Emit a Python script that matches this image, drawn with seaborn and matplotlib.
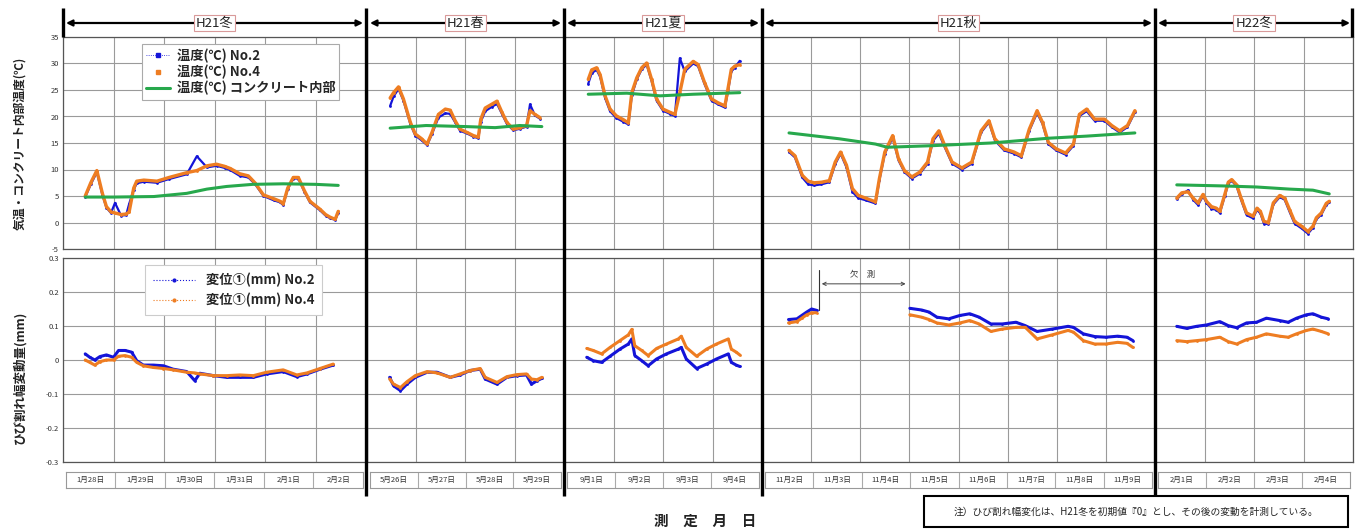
import matplotlib.pyplot as plt
import matplotlib.lines as mlines
from matplotlib.patches import Rectangle
import seaborn as sns

sns.set_style("white")
plt.rcParams["font.family"] = ["Noto Sans CJK JP", "DejaVu Sans"]

# ---------------- data (time = days from first date of each period) ----------------
seasons = ["H21冬", "H21春", "H21夏", "H21秋", "H22冬"]
dates1 = ["1月28日", "1月29日", "1月30日", "1月31日", "2月1日", "2月2日"]
dates2 = ["5月26日", "5月27日", "5月28日", "5月29日"]
dates3 = ["9月1日", "9月2日", "9月3日", "9月4日"]
dates4 = ["11月2日", "11月3日", "11月4日", "11月5日", "11月6日", "11月7日", "11月8日", "11月9日"]
dates5 = ["2月1日", "2月2日", "2月3日", "2月4日"]

temp_ticks = [35, 30, 25, 20, 15, 10, 5, 0, -5]
disp_ticks = [0.3, 0.2, 0.1, 0, -0.1, -0.2, -0.3]
disp_tick_labels = ["0.3", "0.2", "0.1", "0", "-0.1", "-0.2", "-0.3"]

# temperature, H21 winter
t1_time = [0.44, 0.55, 0.67, 0.78, 0.86, 0.95, 1.03, 1.15, 1.25, 1.31, 1.40, 1.46, 1.60, 1.86, 2.10, 2.45,
           2.65, 2.85, 3.04, 3.20, 3.31, 3.50, 3.67, 3.80, 3.97, 4.17, 4.30, 4.36, 4.45, 4.56, 4.66, 4.78,
           4.89, 5.09, 5.20, 5.29, 5.39, 5.45]
t1_no2 = [4.8, 7.2, 9.5, 5.2, 2.8, 1.8, 3.7, 1.3, 1.4, 3.5, 6.2, 7.4, 7.7, 7.5, 8.2, 9.1, 12.5, 10.4, 10.7,
          10.3, 9.9, 8.8, 8.5, 7.3, 5.0, 4.2, 3.8, 3.3, 6.3, 8.3, 8.3, 5.8, 3.8, 2.3, 1.3, 0.8, 0.5, 1.8]
t1_no4 = [5.0, 7.5, 9.8, 5.5, 3.0, 2.0, 1.8, 1.5, 1.6, 2.0, 6.5, 7.8, 8.0, 7.8, 8.5, 9.4, 9.8, 10.7, 11.0,
          10.6, 10.2, 9.2, 8.8, 7.5, 5.2, 4.5, 4.0, 3.5, 6.5, 8.5, 8.5, 6.0, 4.0, 2.5, 1.5, 1.0, 0.6, 2.1]
t1_in_time = [0.44, 1.0, 1.8, 2.45, 2.85, 3.24, 3.76, 4.36, 5.0, 5.45]
t1_inner = [4.8, 4.8, 4.9, 5.5, 6.3, 6.8, 7.2, 7.3, 7.2, 7.0]

# temperature, H21 spring
t2_time = [0.47, 0.54, 0.64, 0.74, 0.88, 0.98, 1.11, 1.22, 1.32, 1.45, 1.59, 1.69, 1.79, 1.89, 2.03, 2.16,
           2.26, 2.31, 2.40, 2.53, 2.64, 2.74, 2.84, 2.97, 3.11, 3.24, 3.31, 3.41, 3.51]
t2_no2 = [22.0, 23.8, 25.2, 23.0, 18.6, 16.4, 15.5, 14.6, 16.7, 19.8, 20.6, 20.5, 18.9, 17.3, 16.8, 16.2,
          15.9, 19.0, 21.0, 21.8, 22.4, 20.5, 18.6, 17.4, 17.7, 18.1, 22.3, 20.2, 19.6]
t2_no4 = [23.5, 24.5, 25.6, 23.3, 18.9, 16.7, 15.8, 14.8, 17.0, 20.4, 21.4, 21.2, 19.2, 17.6, 17.0, 16.4,
          16.1, 19.5, 21.6, 22.3, 22.9, 20.8, 18.9, 17.6, 17.9, 18.3, 21.1, 20.4, 19.8]
t2_in_time = [0.47, 1.2, 2.0, 2.6, 3.1, 3.55]
t2_inner = [17.8, 18.3, 18.1, 17.9, 18.3, 18.1]

# temperature, H21 summer
t3_time = [0.49, 0.56, 0.66, 0.73, 0.83, 0.93, 1.06, 1.20, 1.30, 1.37, 1.47, 1.57, 1.67, 1.77, 1.87, 2.00,
           2.14, 2.24, 2.34, 2.44, 2.61, 2.71, 2.84, 2.98, 3.11, 3.25, 3.31, 3.38, 3.45, 3.55]
t3_no2 = [26.2, 28.2, 28.8, 27.5, 23.5, 21.0, 19.7, 19.0, 18.5, 24.0, 27.0, 28.9, 29.8, 26.7, 23.0, 21.1,
          20.5, 20.1, 31.0, 28.5, 30.0, 29.5, 26.1, 23.0, 22.3, 21.7, 24.6, 28.5, 29.2, 30.5]
t3_no4 = [27.0, 28.8, 29.2, 27.9, 23.9, 21.4, 20.1, 19.4, 18.8, 24.5, 27.3, 29.2, 30.1, 27.0, 23.3, 21.4,
          20.8, 20.4, 24.5, 28.9, 30.4, 29.8, 26.4, 23.3, 22.6, 22.0, 25.1, 28.9, 29.5, 29.8]
t3_in_time = [0.49, 1.27, 1.94, 2.61, 3.55]
t3_inner = [24.2, 24.4, 23.9, 24.2, 24.5]

# temperature, H21 autumn
t4_time = [0.55, 0.67, 0.82, 0.94, 1.06, 1.21, 1.37, 1.49, 1.60, 1.72, 1.84, 1.96, 2.11, 2.31, 2.39, 2.50,
           2.66, 2.78, 2.90, 3.05, 3.21, 3.37, 3.48, 3.60, 3.72, 3.87, 4.07, 4.27, 4.46, 4.62, 4.74, 4.93,
           5.13, 5.28, 5.44, 5.60, 5.71, 5.83, 5.99, 6.18, 6.34, 6.46, 6.61, 6.77, 6.97, 7.12, 7.28, 7.44, 7.59]
t4_no2 = [13.3, 12.3, 8.5, 7.2, 7.0, 7.2, 7.6, 11.0, 13.0, 10.4, 5.8, 4.6, 4.2, 3.6, 8.0, 13.0, 16.0, 11.7,
          9.5, 8.3, 9.2, 11.1, 15.4, 16.8, 14.2, 11.1, 10.0, 11.1, 17.0, 18.9, 15.5, 13.6, 13.0, 12.3, 17.3,
          20.7, 18.6, 14.8, 13.6, 12.8, 14.5, 20.1, 21.0, 19.2, 19.2, 18.0, 17.0, 18.0, 20.8]
t4_no4 = [13.6, 12.6, 8.9, 7.8, 7.5, 7.6, 7.9, 11.4, 13.3, 10.8, 6.4, 5.1, 4.6, 3.9, 8.3, 13.3, 16.4, 12.0,
          9.8, 8.6, 9.5, 11.4, 15.8, 17.3, 14.5, 11.4, 10.3, 11.4, 17.3, 19.2, 15.8, 13.9, 13.3, 12.6, 17.6,
          21.1, 18.9, 15.1, 13.9, 13.1, 14.8, 20.4, 21.4, 19.5, 19.5, 18.3, 17.3, 18.3, 21.1]
t4_in_time = [0.55, 1.57, 2.31, 2.55, 3.48, 4.66, 5.83, 6.61, 7.59]
t4_inner = [16.9, 15.8, 14.8, 14.2, 14.5, 15.0, 15.9, 16.3, 16.9]

# temperature, H22 winter
t5_time = [0.44, 0.54, 0.67, 0.77, 0.87, 0.97, 1.04, 1.14, 1.24, 1.31, 1.41, 1.48, 1.55, 1.65, 1.75, 1.85,
           1.98, 2.06, 2.13, 2.20, 2.29, 2.39, 2.52, 2.62, 2.72, 2.82, 2.96, 3.09, 3.19, 3.26, 3.36, 3.46, 3.52]
t5_no2 = [4.4, 5.3, 6.1, 4.3, 3.3, 5.0, 3.7, 2.6, 2.4, 1.8, 5.0, 7.3, 7.9, 6.8, 4.0, 1.4, 0.8, 2.4, 1.7,
          -0.2, -0.3, 3.4, 4.8, 4.3, 2.0, -0.2, -1.1, -2.1, -1.0, 0.6, 1.5, 3.3, 3.8]
t5_no4 = [4.6, 5.6, 5.8, 4.6, 3.7, 5.3, 4.0, 3.0, 2.7, 2.1, 5.3, 7.6, 8.1, 7.1, 4.3, 1.8, 1.2, 2.7, 2.1,
          0.2, 0.0, 3.7, 5.1, 4.6, 2.4, 0.2, -0.7, -1.7, -0.7, 0.9, 1.8, 3.6, 4.0]
t5_in_time = [0.44, 1.38, 2.05, 2.72, 3.19, 3.52]
t5_inner = [7.1, 6.9, 6.7, 6.3, 6.1, 5.4]

# crack width change (mm)
d1_time = [0.44, 0.53, 0.63, 0.73, 0.86, 1.0, 1.1, 1.23, 1.36, 1.46, 1.59, 1.79, 1.99, 2.18, 2.45, 2.61,
           2.71, 2.98, 3.24, 3.5, 3.77, 4.03, 4.36, 4.63, 4.83, 5.09, 5.35]
d1_no2 = [0.018, 0.008, 0.0, 0.01, 0.015, 0.008, 0.028, 0.028, 0.023, -0.002, -0.015, -0.015, -0.017,
          -0.027, -0.034, -0.061, -0.039, -0.046, -0.051, -0.051, -0.051, -0.041, -0.034, -0.049, -0.041,
          -0.027, -0.015]
d1_no4 = [0.0, -0.007, -0.015, -0.005, 0.0, 0.0, 0.011, 0.013, 0.008, -0.007, -0.017, -0.022, -0.025,
          -0.029, -0.036, -0.038, -0.041, -0.046, -0.046, -0.044, -0.046, -0.036, -0.029, -0.044, -0.038,
          -0.025, -0.012]

d2_time = [0.46, 0.54, 0.68, 0.81, 0.98, 1.22, 1.42, 1.69, 1.89, 2.09, 2.30, 2.40, 2.64, 2.84, 3.04, 3.24,
           3.34, 3.45, 3.55]
d2_no2 = [-0.051, -0.076, -0.090, -0.071, -0.051, -0.036, -0.036, -0.051, -0.044, -0.031, -0.027, -0.056,
          -0.071, -0.051, -0.046, -0.044, -0.071, -0.061, -0.054]
d2_no4 = [-0.056, -0.071, -0.081, -0.064, -0.046, -0.034, -0.038, -0.051, -0.041, -0.031, -0.025, -0.051,
          -0.066, -0.049, -0.043, -0.041, -0.056, -0.058, -0.051]

d3_time = [0.46, 0.59, 0.76, 0.93, 1.13, 1.30, 1.37, 1.43, 1.57, 1.70, 1.87, 2.07, 2.31, 2.37, 2.47, 2.68,
           2.88, 3.08, 3.32, 3.38, 3.48, 3.55]
d3_no2 = [0.008, -0.002, -0.007, 0.011, 0.032, 0.047, 0.062, 0.013, -0.002, -0.017, 0.003, 0.018, 0.032,
          0.037, 0.003, -0.025, -0.012, 0.003, 0.018, -0.007, -0.015, -0.019]
d3_no4 = [0.034, 0.028, 0.018, 0.037, 0.057, 0.074, 0.09, 0.042, 0.028, 0.013, 0.034, 0.047, 0.062, 0.070,
          0.037, 0.011, 0.032, 0.047, 0.062, 0.032, 0.023, 0.015]

# autumn has a gap in the record (欠測)
d4a_time = [0.54, 0.71, 0.81, 0.91, 1.01, 1.11]
d4a_no2 = [0.119, 0.121, 0.131, 0.141, 0.150, 0.146]
d4a_no4 = [0.109, 0.113, 0.123, 0.133, 0.139, 0.139]
d4b_time = [3.01, 3.25, 3.40, 3.56, 3.80, 4.03, 4.23, 4.42, 4.66, 4.89, 5.17, 5.36, 5.60, 5.91, 6.23, 6.34,
            6.54, 6.77, 7.00, 7.24, 7.43, 7.55]
d4b_no2 = [0.152, 0.147, 0.141, 0.126, 0.121, 0.131, 0.136, 0.126, 0.106, 0.106, 0.111, 0.101, 0.084, 0.091,
           0.099, 0.096, 0.077, 0.069, 0.067, 0.070, 0.067, 0.057]
d4b_no4 = [0.133, 0.126, 0.119, 0.109, 0.103, 0.109, 0.116, 0.106, 0.084, 0.091, 0.096, 0.096, 0.062, 0.074,
           0.087, 0.082, 0.057, 0.047, 0.047, 0.052, 0.049, 0.037]

d5_time = [0.44, 0.64, 0.84, 1.04, 1.31, 1.48, 1.65, 1.85, 2.05, 2.25, 2.52, 2.69, 2.86, 3.06, 3.19, 3.36, 3.50]
d5_no2 = [0.099, 0.093, 0.099, 0.103, 0.113, 0.101, 0.095, 0.109, 0.111, 0.123, 0.116, 0.111, 0.123, 0.133,
          0.136, 0.126, 0.121]
d5_no4 = [0.057, 0.054, 0.057, 0.060, 0.067, 0.054, 0.047, 0.060, 0.067, 0.077, 0.070, 0.067, 0.077, 0.087,
          0.091, 0.084, 0.077]

# ---------------- layout ----------------
W, H = 1363, 530
BLUE, ORANGE, GREEN = "#1414d8", "#ee7d22", "#27a84c"
GRID = "#9a9a9a"


def px_box(x0, y0, x1, y1):
    return [x0 / W, 1 - y1 / H, (x1 - x0) / W, (y1 - y0) / H]


segments = [
    (63, 366, dates1, (t1_time, t1_no2, t1_no4, t1_in_time, t1_inner), [(d1_time, d1_no2, d1_no4)]),
    (367, 564, dates2, (t2_time, t2_no2, t2_no4, t2_in_time, t2_inner), [(d2_time, d2_no2, d2_no4)]),
    (564, 762, dates3, (t3_time, t3_no2, t3_no4, t3_in_time, t3_inner), [(d3_time, d3_no2, d3_no4)]),
    (762, 1155, dates4, (t4_time, t4_no2, t4_no4, t4_in_time, t4_inner),
     [(d4a_time, d4a_no2, d4a_no4), (d4b_time, d4b_no2, d4b_no4)]),
    (1155, 1353, dates5, (t5_time, t5_no2, t5_no4, t5_in_time, t5_inner), [(d5_time, d5_no2, d5_no4)]),
]

fig = plt.figure(figsize=(W / 100, H / 100), dpi=100)
fig.patch.set_facecolor("white")


def style_axes(ax, n):
    ax.set_xlim(0, n)
    ax.set_xticks(range(n + 1))
    ax.grid(True, color=GRID, lw=0.8)
    ax.tick_params(length=0, labelbottom=False, labelsize=5.5, labelcolor="#333333", pad=3)
    for sp in ax.spines.values():
        sp.set_color("#555555")
        sp.set_linewidth(0.9)


line_kw = dict(marker=".", markersize=4, markeredgewidth=0, estimator=None, sort=False)
axes_top, axes_bot = [], []
for i, (x0, x1, dates, temps, disps) in enumerate(segments):
    n = len(dates)
    ax_t = fig.add_axes(px_box(x0, 37, x1, 249))
    ax_b = fig.add_axes(px_box(x0, 258, x1, 462))
    ax_d = fig.add_axes(px_box(x0 + 3, 472, x1 - 3, 488))
    axes_top.append(ax_t)
    axes_bot.append(ax_b)

    tt, no2, no4, ti, inner = temps
    sns.lineplot(x=tt, y=no2, ax=ax_t, color=BLUE, lw=1.6, **line_kw)
    sns.lineplot(x=tt, y=no4, ax=ax_t, color=ORANGE, lw=2.4, **line_kw)
    sns.lineplot(x=ti, y=inner, ax=ax_t, color=GREEN, lw=2.2, estimator=None, sort=False)
    ax_t.set_ylim(-5, 35)
    ax_t.set_yticks(temp_ticks)
    style_axes(ax_t, n)

    for dt, dn2, dn4 in disps:
        sns.lineplot(x=dt, y=dn2, ax=ax_b, color=BLUE, lw=2.2, **line_kw)
        sns.lineplot(x=dt, y=dn4, ax=ax_b, color=ORANGE, lw=2.2, **line_kw)
    ax_b.set_ylim(-0.3, 0.3)
    ax_b.set_yticks(disp_ticks)
    style_axes(ax_b, n)

    if i == 0:
        ax_t.set_yticklabels([str(v) for v in temp_ticks])
        ax_b.set_yticklabels(disp_tick_labels)
    else:
        ax_t.tick_params(labelleft=False)
        ax_b.tick_params(labelleft=False)
    for a in (ax_t, ax_b):
        a.set_xlabel("")
        a.set_ylabel("")

    # date row
    ax_d.set_xlim(0, n)
    ax_d.set_ylim(0, 1)
    ax_d.set_xticks([])
    ax_d.set_yticks([])
    for k in range(1, n):
        ax_d.axvline(k, color="#aaaaaa", lw=0.8)
    for k, lab in enumerate(dates):
        ax_d.text(k + 0.5, 0.5, lab, ha="center", va="center", fontsize=5.5, color="#333333")
    for sp in ax_d.spines.values():
        sp.set_color("#999999")
        sp.set_linewidth(0.8)

# legends
h_no2 = mlines.Line2D([], [], color=BLUE, lw=0.6, ls=":", marker="s", markersize=2.5)
h_no4 = mlines.Line2D([], [], color=ORANGE, lw=0, marker="s", markersize=2.5)
h_in = mlines.Line2D([], [], color=GREEN, lw=2.2)
leg = axes_top[0].legend([h_no2, h_no4, h_in],
                         ["温度(℃) No.2", "温度(℃) No.4", "温度(℃) コンクリート内部"],
                         loc="upper left", bbox_to_anchor=(0.262, 0.965), borderaxespad=0,
                         fancybox=False, edgecolor="#aaaaaa", framealpha=1,
                         prop={"size": 9.5, "weight": "bold"}, handlelength=1.8, labelspacing=0.15,
                         borderpad=0.3, handletextpad=0.5)
leg.get_frame().set_linewidth(0.8)

h_d2 = mlines.Line2D([], [], color=BLUE, lw=0.8, ls=":", marker=".", markersize=4)
h_d4 = mlines.Line2D([], [], color=ORANGE, lw=0.8, ls=":", marker=".", markersize=4)
leg2 = axes_bot[0].legend([h_d2, h_d4], ["変位①(mm) No.2", "変位①(mm) No.4"],
                          loc="upper left", bbox_to_anchor=(0.27, 0.965), borderaxespad=0,
                          fancybox=False, edgecolor="#cccccc", framealpha=1,
                          prop={"size": 9.5, "weight": "bold"}, handlelength=3.2, labelspacing=0.4,
                          borderpad=0.6)
leg2.get_frame().set_linewidth(0.8)

# missing-data note in autumn panel
ax4b = axes_bot[3]
ax4b.plot([1.16, 1.16], [0.146, 0.266], color="#333333", lw=0.8)
ax4b.annotate("", xy=(2.98, 0.224), xytext=(1.16, 0.224),
              arrowprops=dict(arrowstyle="<->", color="#444444", lw=0.7, mutation_scale=6))
ax4b.text(2.05, 0.252, "欠　測", ha="center", va="center", fontsize=6, color="#333333")

# overlay for headers, separators, labels
ov = fig.add_axes([0, 0, 1, 1])
ov.set_xlim(0, W)
ov.set_ylim(H, 0)
ov.axis("off")

for x in [366, 564, 762, 1155]:
    ov.plot([x, x], [8, 496], color="black", lw=2.4, solid_capstyle="butt")
for x in [63, 1352]:
    ov.plot([x, x], [8, 37], color="black", lw=2.4, solid_capstyle="butt")

for (x0, x1, *_), name in zip(segments, seasons):
    ov.annotate("", xy=(x0 + 3, 23), xytext=(x1 - 3, 23),
                arrowprops=dict(arrowstyle="<|-|>", color="black", lw=1.6, mutation_scale=9,
                                shrinkA=0, shrinkB=0))
    ov.text((x0 + x1) / 2, 23, name, ha="center", va="center", fontsize=9.5, color="#222222",
            bbox=dict(boxstyle="square,pad=0.15", fc="white", ec="#d99a9a", lw=0.8))

fig.text(20 / W, 1 - 143 / H, "気温・コンクリート内部温度(℃)", rotation=90, ha="center", va="center",
         fontsize=8.5, fontweight="bold", color="#222222")
fig.text(20 / W, 1 - 377 / H, "ひび割れ幅変動量(mm)", rotation=90, ha="center", va="center",
         fontsize=9, fontweight="bold", color="#222222")
ov.text(705, 521, "測　定　月　日", ha="center", va="center", fontsize=10.5, fontweight="bold",
        color="#222222")

ov.add_patch(Rectangle((924, 496), 424, 31, fc="white", ec="black", lw=1.5))
ov.text(1136, 512, "注）ひび割れ幅変化は、H21冬を初期値『0』とし、その後の変動を計測している。",
        ha="center", va="center", fontsize=7, color="#222222")

fig.savefig("out.png", dpi=100)
